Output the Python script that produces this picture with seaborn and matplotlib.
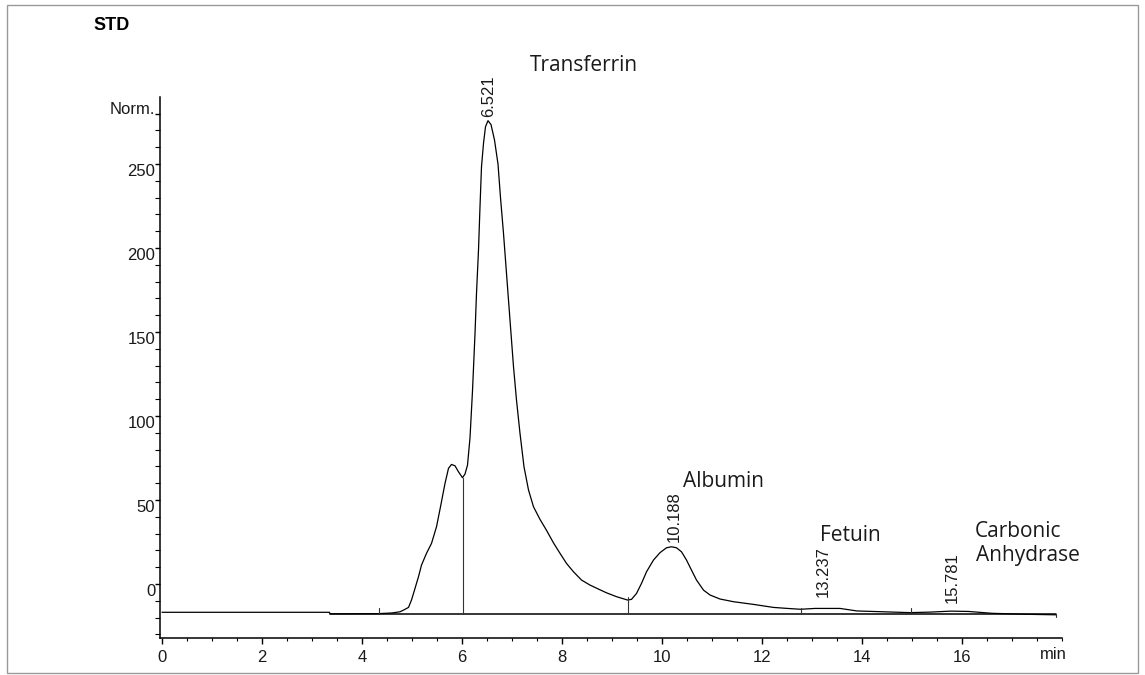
import matplotlib
matplotlib.use("Agg")
import matplotlib.pyplot as plt
from matplotlib.patches import Rectangle
from matplotlib.ticker import MultipleLocator, FixedLocator
import numpy as np
import pandas as pd
import seaborn as sns

# ---------------- data ----------------
time_min = [0.00, 3.35, 3.36, 4.33, 4.60, 4.76, 4.83, 4.93, 4.99, 5.06, 5.13,
            5.19, 5.29, 5.39, 5.49, 5.57, 5.66, 5.73, 5.79, 5.86, 5.93, 6.01,
            6.06, 6.11, 6.16, 6.21, 6.26, 6.29, 6.33, 6.36, 6.39, 6.43, 6.47,
            6.52, 6.58, 6.65, 6.72, 6.77, 6.83, 6.88, 6.93, 6.98, 7.03, 7.09,
            7.16, 7.24, 7.33, 7.43, 7.56, 7.69, 7.83, 7.96, 8.09, 8.23, 8.39,
            8.56, 8.73, 8.89, 9.09, 9.31, 9.39, 9.49, 9.59, 9.69, 9.83, 9.96,
            10.09, 10.19, 10.29, 10.39, 10.49, 10.59, 10.69, 10.83, 10.96, 11.16,
            11.43, 11.83, 12.23, 12.51, 12.77, 13.06, 13.56, 13.90, 14.96, 15.36,
            15.78, 16.13, 16.60, 17.30, 17.88]
signal = [-16.8, -16.8, -17.7, -17.6, -17.2, -16.5, -15.5, -13.9, -9.5, -2.6, 4.4,
          11.3, 18.3, 24.2, 34.1, 46.0, 59.9, 68.9, 71.2, 70.4, 66.8, 63.3,
          65.5, 70.8, 87.0, 115.0, 149.0, 173.0, 198.8, 224.6, 248.4, 262.3, 272.2,
          275.8, 273.5, 264.3, 250.0, 230.0, 208.7, 188.9, 169.0, 149.2, 129.4, 109.5,
          89.7, 69.8, 56.0, 46.0, 38.5, 32.0, 24.5, 18.3, 12.3, 7.3, 2.4,
          -0.6, -3.0, -5.2, -7.5, -9.5, -9.1, -5.6, 0.4, 7.3, 14.3, 18.7,
          21.6, 22.2, 21.6, 19.2, 14.3, 8.3, 2.4, -3.6, -6.5, -8.9,
          -10.5, -12.1, -13.9, -14.5, -15.0, -14.5, -14.5, -16.0, -17.0, -16.7,
          -16.1, -16.3, -17.4, -18.0, -18.3]

peak_names = ["Transferrin", "Albumin", "Fetuin", "Carbonic", "Anhydrase"]
peak_rt = [6.521, 10.188, 13.237, 15.781]
rt_labels = ["6.521", "10.188", "13.237", "15.781"]
rt_label_base = [278.0, 25.0, -7.7, -11.0]

event_times = [4.33, 6.01, 9.31, 12.77, 14.97, 17.88]
integration_baseline = -17.6

y_major = [0, 50, 100, 150, 200, 250, 280]
y_major_labels = ["0", "50", "100", "150", "200", "250", "Norm."]
x_major = [0, 2, 4, 6, 8, 10, 12, 14, 16]

# ---------------- style ----------------
sns.set_style("white")
plt.rcParams["font.family"] = ["Liberation Sans", "DejaVu Sans"]

fig = plt.figure(figsize=(11.45, 6.75), dpi=100)
ax = fig.add_axes([160 / 1145, 1 - 638 / 675, 902 / 1145, 541 / 675])

df = pd.DataFrame({"time": time_min, "signal": signal})
sns.lineplot(data=df, x="time", y="signal", ax=ax, color="black", lw=0.9,
             estimator=None, sort=False)

# integration baseline and event marks
ax.plot([time_min[2], event_times[-1]], [integration_baseline] * 2,
        color="black", lw=1.1)
sig_at = lambda t: float(np.interp(t, time_min, signal))
ax.plot([event_times[1]] * 2, [integration_baseline, sig_at(event_times[1])],
        color="#333333", lw=0.8)
ax.plot([event_times[2]] * 2, [integration_baseline, sig_at(event_times[2]) + 2],
        color="#333333", lw=0.8)
for t in [event_times[0], event_times[3], event_times[4]]:
    ax.plot([t, t], [integration_baseline - 0.5, integration_baseline + 3.5],
            color="#333333", lw=0.8)
ax.plot([event_times[5]] * 2, [integration_baseline - 2, integration_baseline],
        color="#333333", lw=0.8)

ax.set_xlim(-0.04, 18.0)
ax.set_ylim(-32.1, 289.9)

# axes / ticks
for s in ["top", "right"]:
    ax.spines[s].set_visible(False)
for s in ["left", "bottom"]:
    ax.spines[s].set_color("black")
    ax.spines[s].set_linewidth(1.1)

ax.set_xticks(x_major)
ax.set_xticklabels([str(v) for v in x_major])
ax.xaxis.set_minor_locator(MultipleLocator(0.5))
ax.yaxis.set_major_locator(FixedLocator(y_major))
ax.set_yticklabels(y_major_labels)
ax.yaxis.set_minor_locator(MultipleLocator(10))

ax.tick_params(axis="both", which="both", direction="out", color="black",
               labelsize=12, labelcolor="#1a1a1a", left=True, bottom=True)
ax.tick_params(axis="x", which="major", length=4, width=1, pad=5)
ax.tick_params(axis="x", which="minor", length=2.5, width=0.8)
ax.tick_params(axis="y", which="major", length=3.5, width=1, pad=0)
ax.tick_params(axis="y", which="minor", length=3.5, width=0.8)
ylabs = ax.get_yticklabels()
for lab in ylabs[:-1]:
    lab.set_verticalalignment("top")
ylabs[-1].set_verticalalignment("baseline")
ax.set_xlabel("")
ax.set_ylabel("")

ax.annotate("min", xy=(17.82, 0), xycoords=("data", "axes fraction"),
            xytext=(0, -9), textcoords="offset pixels", ha="center", va="top",
            fontsize=12, color="#1a1a1a")

# retention time labels
rt_dx = [0.01, 0.05, -0.02, 0.02]
for rt, lab, yb, dx in zip(peak_rt, rt_labels, rt_label_base, rt_dx):
    ax.text(rt + dx, yb, lab, rotation=90, ha="center", va="bottom",
            fontsize=12, color="#1a1a1a")

# compound names
name_font = dict(fontsize=15, family=["Open Sans", "DejaVu Sans"],
                 color="#1a1a1a", ha="left", va="baseline")
ax.text(7.36, 305.5, peak_names[0], **name_font)
ax.text(10.42, 57.5, peak_names[1], **name_font)
ax.text(13.16, 25.7, peak_names[2], **name_font)
ax.text(16.26, 28.3, peak_names[3], **name_font)
ax.text(16.28, 13.9, peak_names[4], **name_font)

# title and frame
fig.text(93 / 1145, 1 - 17 / 675, "STD", ha="left", va="top",
         fontsize=13, fontweight="bold", color="black")
fig.patches.append(Rectangle((7 / 1145, 1 - 673 / 675), 1131 / 1145, 668 / 675,
                             transform=fig.transFigure, fill=False,
                             edgecolor="#9a9a9a", lw=1.0))

fig.savefig("out.png", dpi=100)
